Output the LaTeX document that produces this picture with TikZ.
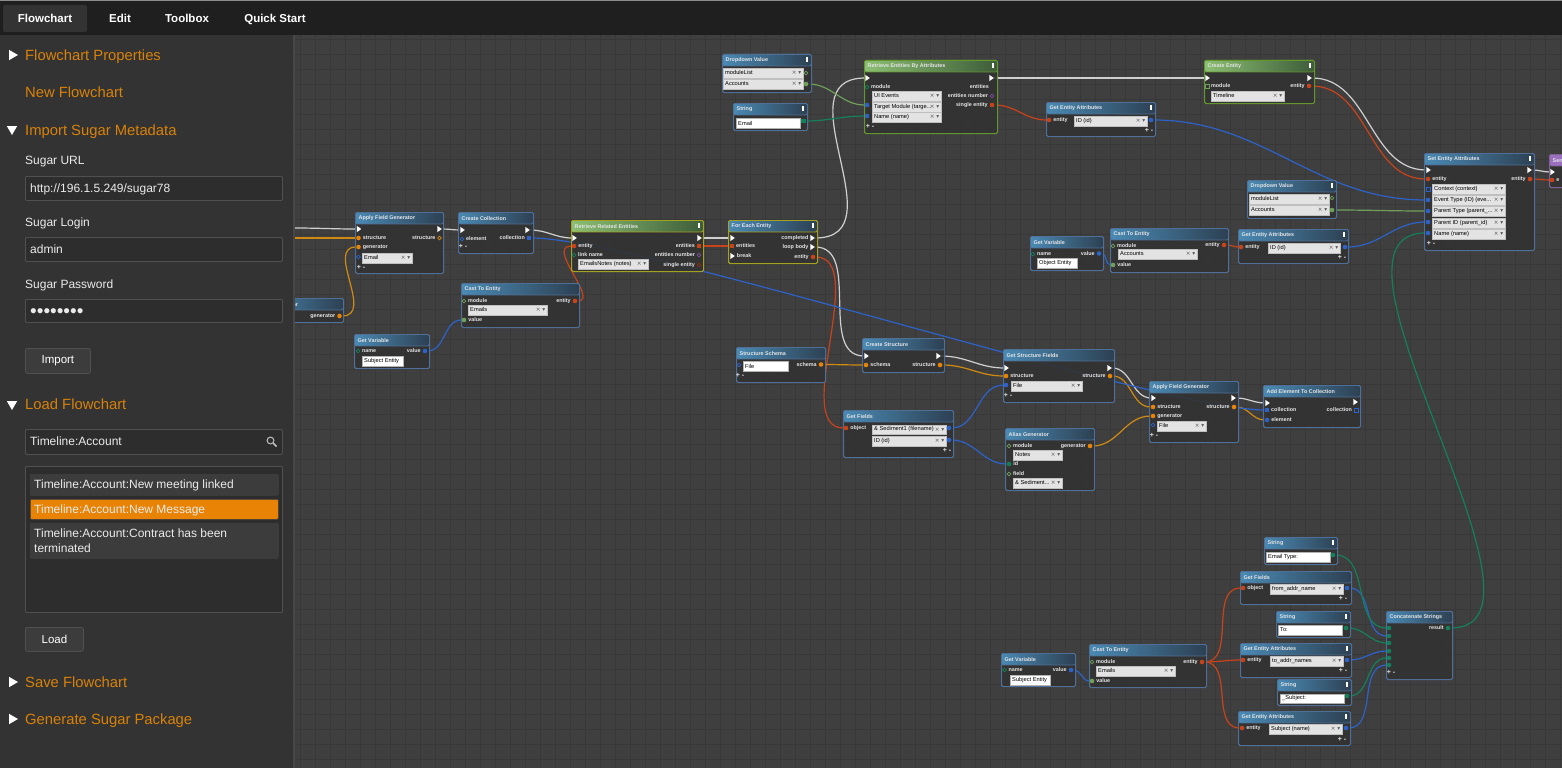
\documentclass[tikz,border=0pt]{standalone}
\usepackage{fontspec}
\setmainfont{Liberation Sans}
\newfontfamily\symfont{DejaVu Sans}
\usetikzlibrary{shapes,shapes.geometric,positioning}
\pgfdeclarelayer{canvas}
\pgfdeclarelayer{wires}
\pgfsetlayers{canvas,wires,main}
\definecolor{sidegray}{HTML}{333333}
\definecolor{topgray}{HTML}{1F1F1F}
\definecolor{canvasgray}{HTML}{3F3F3F}
\definecolor{gridgray}{HTML}{383838}
\definecolor{bodygray}{HTML}{323232}
\definecolor{inputgray}{HTML}{2D2D2D}
\definecolor{sideline}{HTML}{505050}
\definecolor{btngray}{HTML}{3C3C3C}
\definecolor{orangetxt}{HTML}{D98208}
\definecolor{orangesel}{HTML}{E88305}
\definecolor{edgeblue}{HTML}{4F6F96}
\definecolor{edgegreen}{HTML}{64962F}
\definecolor{edgeyellow}{HTML}{A3A321}
\definecolor{edgepurple}{HTML}{80608F}
\definecolor{wwhite}{HTML}{D0D0D0}
\definecolor{wred}{HTML}{C8431A}
\definecolor{worange}{HTML}{D18A10}
\definecolor{wblue}{HTML}{2D62C8}
\definecolor{wlime}{HTML}{6F9F5A}
\definecolor{wteal}{HTML}{14805A}
\definecolor{wpurple}{HTML}{7A4FA0}
\definecolor{HTMLblueA}{HTML}{4A8AB4}
\definecolor{HTMLblueB}{HTML}{2D4052}
\definecolor{HTMLgreenA}{HTML}{8CBF74}
\definecolor{HTMLgreenB}{HTML}{3D5C38}
\definecolor{HTMLpurpA}{HTML}{9A6FBF}
\tikzset{
  tabtxt/.style={text=white,font=\fontsize{11.5}{13}\selectfont\bfseries,inner sep=0pt,text height=12.5pt,text depth=2.5pt},
  headtxt/.style={text=orangetxt,font=\fontsize{14.8}{17}\selectfont,inner sep=0pt,anchor=west,text height=14pt,text depth=3pt},
  sidetxt/.style={text=white!92!black,font=\fontsize{12}{15}\selectfont,inner sep=0pt,anchor=west,text height=10.5pt,text depth=2.5pt},
  sidebox/.style={draw=sideline,fill=inputgray,line width=.8pt,rounded corners=1pt,anchor=north west,inner sep=0pt},
  sidebtn/.style={draw=sideline,fill=btngray,line width=.8pt,rounded corners=2pt,anchor=north west,inner sep=0pt,text=white,font=\fontsize{11.5}{13}\selectfont},
  listitem/.style={fill=#1,draw=sideline!80!black,line width=.5pt,rounded corners=1pt,anchor=north west,inner sep=0pt},
  arrowtri/.style={isosceles triangle,isosceles triangle apex angle=60,fill=white,inner sep=0pt,minimum size=9pt},
  flowbody/.style={fill=bodygray,fill opacity=.9,line width=1.1pt,rounded corners=1.5pt,anchor=north west,inner sep=0pt},
  lineblue/.style={draw=edgeblue},
  linegreen/.style={draw=edgegreen},
  lineyellow/.style={draw=edgeyellow},
  linepurple/.style={draw=edgepurple},
  titleblue/.style={left color=HTMLblueA,right color=HTMLblueB},
  titlegreen/.style={left color=HTMLgreenA,right color=HTMLgreenB},
  titlepurple/.style={left color=HTMLpurpA,right color=HTMLpurpA},
  titletxt/.style={text=white!90!black,font=\fontsize{5.4}{6}\selectfont\bfseries,inner sep=0pt},
  portlbl/.style={text=white!90!black,font=\fontsize{5.4}{6}\selectfont\bfseries,inner sep=0pt},
  rowtxt/.style={text=black,font=\fontsize{5.7}{6}\selectfont,inner sep=0pt,anchor=west},
  dropbox/.style={fill=black!11,draw=black!25,line width=.4pt,anchor=north west,inner sep=0pt,minimum height=9.5pt},
  inbox/.style={fill=white,draw=black!30,line width=.5pt,anchor=north west,inner sep=0pt,minimum height=9.5pt},
  portfull/.style={circle,fill=#1,inner sep=0pt,minimum size=4.6pt},
  portring/.style={circle,draw=#1,inner sep=0pt,minimum size=3.8pt,line width=.7pt},
  portsq/.style={rectangle,fill=#1,inner sep=0pt,minimum size=4.4pt},
  portsqring/.style={rectangle,draw=#1,inner sep=0pt,minimum size=3.8pt,line width=.8pt},
  portexec/.style={isosceles triangle,isosceles triangle apex angle=70,fill=white,inner sep=0pt,minimum size=4.4pt},
  wire/.style={out=0,in=180,line width=1.2pt,line cap=round},
  wirewhite/.style={wire,color=wwhite},
  wirered/.style={wire,color=wred},
  wireorange/.style={wire,color=worange},
  wireblue/.style={wire,color=wblue},
  wirelime/.style={wire,color=wlime},
  wireteal/.style={wire,color=wteal}
}
% name, x, y, w, h, title, line style, title style
\newcommand{\flowbox}[8]{
  \node[flowbody,#7,minimum width=#4pt,minimum height=#5pt] (#1) at (#2,#3) {};
  \node[anchor=north west,inner sep=0pt,rounded corners=1.5pt,line width=.8pt,#7,#8,minimum width=#4pt,minimum height=11.5pt] (#1-title) at (#2,#3) {};
  \node[titletxt,right=3.5pt of #1-title.west] (#1-name) {#6};
}
\newcommand{\kebab}[1]{\fill[white] ([xshift=-5.5pt,yshift=-3pt]#1-title.north east) rectangle +(1.5,5);}
\newcommand{\portin}[5]{\node[#1] (#2) at (#3,#4) {}; \node[portlbl,right=1.6pt of #2] (#2-l) {#5};}
\newcommand{\portout}[5]{\node[#1] (#2) at (#3,#4) {}; \node[portlbl,left=1.6pt of #2] (#2-l) {#5};}
\newcommand{\portbare}[4]{\node[#1] (#2) at (#3,#4) {};}
\newcommand{\droprow}[5]{\node[dropbox,minimum width=#4pt] (#1) at (#2,#3) {};
  \node[rowtxt,right=2pt of #1.west] (#1-t) {#5};
  \node[rowtxt,left=2pt of #1.east,anchor=east,text=black!65] (#1-x) {\symfont × ▾};}
\newcommand{\inrow}[5]{\node[inbox,minimum width=#4pt] (#1) at (#2,#3) {};
  \node[rowtxt,right=2pt of #1.west] (#1-t) {#5};}
\newcommand{\addrem}[3]{\node[portlbl,font=\fontsize{7}{7}\selectfont\bfseries] (#1) at (#2,#3) {+ -};}
\begin{document}
\begin{tikzpicture}[x=1pt,y=-1pt]
  \useasboundingbox (0,0) rectangle (1562,768);
  \begin{pgfonlayer}{canvas}
    \fill[canvasgray] (293,35) rectangle (1562,768);
    \foreach \gx in {300,315,...,1560} \draw[gridgray,line width=.7pt] (\gx,35) -- (\gx,768);
    \foreach \gy in {39,54,...,768} \draw[gridgray,line width=.7pt] (293,\gy) -- (1562,\gy);
  \end{pgfonlayer}

  % upper row
  \flowbox{ddone}{722}{54}{89}{38}{Dropdown Value}{lineblue}{titleblue}\kebab{ddone}
  \droprow{ddone-a}{723}{68}{80}{moduleList}
  \droprow{ddone-b}{723}{79}{80}{Accounts}
  \portbare{portring=wlime}{ddone-pa}{806}{73}
  \portbare{portfull=wlime}{ddone-pb}{806}{84}
  \flowbox{strmail}{733}{103}{74}{27}{String}{lineblue}{titleblue}\kebab{strmail}
  \inrow{strmail-in}{736}{118}{64}{Email}
  \portbare{portsq=wteal}{strmail-p}{803.5}{121}

  \flowbox{rba}{864}{60}{133}{73}{Retrieve Entities By Attributes}{linegreen}{titlegreen}\kebab{rba}
  \portbare{portexec}{rba-in}{867}{78}
  \portbare{portexec}{rba-out}{991}{78}
  \portin{portring=wteal}{rba-mod}{867}{87}{module}
  \droprow{rba-a}{872}{91}{69}{UI Events}
  \droprow{rba-b}{872}{102}{69}{Target Module (targe...}
  \droprow{rba-c}{872}{112}{69}{Name (name)}
  \portbare{portfull=wblue}{rba-pb}{867}{105}
  \portbare{portfull=wblue}{rba-pc}{867}{116}
  \addrem{rba-add}{870}{126}
  \portout{portring=wpurple}{rba-num}{992}{96}{entities number}
  \portout{portfull=wred}{rba-one}{992}{105}{single entity}
  \node[portlbl,anchor=east] (rba-ents) at (989,87) {entities};

  \flowbox{cent}{1204}{60}{110}{43}{Create Entity}{linegreen}{titlegreen}\kebab{cent}
  \portbare{portexec}{cent-in}{1207}{78}
  \portbare{portexec}{cent-out}{1309}{78}
  \portin{portsqring=wlime}{cent-mod}{1207}{86}{module}
  \droprow{cent-a}{1211}{91}{73}{Timeline}
  \portout{portfull=wred}{cent-ent}{1309}{86}{entity}

  \flowbox{gea}{1046}{102}{109}{34}{Get Entity Attributes}{lineblue}{titleblue}\kebab{gea}
  \portin{portfull=wred}{gea-ent}{1049}{120}{entity}
  \droprow{gea-a}{1074}{116}{73}{ID (id)}
  \portbare{portfull=wblue}{gea-p}{1151}{120}
  \addrem{gea-add}{1149}{130}

  \flowbox{sea}{1424}{153}{110}{97}{Set Entity Attributes}{lineblue}{titleblue}\kebab{sea}
  \portbare{portexec}{sea-in}{1428}{170}
  \portbare{portexec}{sea-out}{1529}{170}
  \portin{portfull=wred}{sea-ent}{1428}{179}{entity}
  \portout{portfull=wred}{sea-res}{1530}{179}{entity}
  \droprow{sea-a}{1432}{184}{73}{Context (context)}
  \droprow{sea-b}{1432}{195}{73}{Event Type (ID) (eve...}
  \droprow{sea-c}{1432}{206}{73}{Parent Type (parent\_...}
  \droprow{sea-d}{1432}{218}{73}{Parent ID (parent\_id)}
  \droprow{sea-e}{1432}{229}{73}{Name (name)}
  \portbare{portsqring=wblue}{sea-pa}{1428}{189}
  \portbare{portfull=wblue}{sea-pb}{1428}{200}
  \portbare{portfull=wblue}{sea-pc}{1428}{211}
  \portbare{portfull=wblue}{sea-pd}{1428}{222}
  \portbare{portfull=wblue}{sea-pe}{1428}{233}
  \addrem{sea-add}{1431}{243}

  \flowbox{send}{1549}{154}{15}{33}{Sen}{linepurple}{titlepurple}
  \portbare{portexec}{send-in}{1552}{172}
  \portin{portfull=wred}{send-ent}{1552}{180}{e}

  \flowbox{ddtwo}{1247}{180}{89}{38}{Dropdown Value}{lineblue}{titleblue}\kebab{ddtwo}
  \droprow{ddtwo-a}{1249}{194}{80}{moduleList}
  \droprow{ddtwo-b}{1249}{205}{80}{Accounts}
  \portbare{portring=wlime}{ddtwo-pa}{1332}{198}
  \portbare{portfull=wlime}{ddtwo-pb}{1332}{210}

  \flowbox{gvobj}{1030}{236}{73}{34}{Get Variable}{lineblue}{titleblue}
  \portin{portring=wteal}{gvobj-name}{1033}{254}{name}
  \inrow{gvobj-in}{1037}{258}{40}{Object Entity}
  \portout{portfull=wblue}{gvobj-val}{1099}{253.5}{value}

  \flowbox{castacc}{1110}{228}{118}{44}{Cast To Entity}{lineblue}{titleblue}
  \portin{portring=wlime}{castacc-mod}{1113}{246}{module}
  \droprow{castacc-a}{1118}{249}{79}{Accounts}
  \portin{portfull=wlime}{castacc-val}{1113}{265}{value}
  \portout{portfull=wred}{castacc-ent}{1224}{245}{entity}

  \flowbox{geaid}{1238}{229}{110}{34}{Get Entity Attributes}{lineblue}{titleblue}\kebab{geaid}
  \portin{portfull=wred}{geaid-ent}{1241}{247}{entity}
  \droprow{geaid-a}{1268}{243}{72}{ID (id)}
  \portbare{portfull=wblue}{geaid-p}{1345}{247}
  \addrem{geaid-add}{1342}{257}

  % left part
  \flowbox{gencut}{254}{298}{89}{24}{Alias Generator}{lineblue}{titleblue}
  \portout{portfull=orangesel}{gencut-p}{339.5}{316}{generator}

  \flowbox{afg}{355}{212}{88}{61}{Apply Field Generator}{lineblue}{titleblue}
  \portbare{portexec}{afg-in}{358.5}{229}
  \portbare{portexec}{afg-out}{439}{229}
  \portin{portfull=orangesel}{afg-str}{358.5}{238}{structure}
  \portout{portring=worange}{afg-res}{439.5}{238}{structure}
  \portin{portfull=orangesel}{afg-gen}{358.5}{247}{generator}
  \droprow{afg-a}{362}{253}{50}{Email}
  \portbare{portring=wblue}{afg-pa}{358.5}{257}
  \addrem{afg-add}{361}{267}

  \flowbox{ccol}{458}{212}{75}{41}{Create Collection}{lineblue}{titleblue}
  \portbare{portexec}{ccol-in}{462}{230}
  \portbare{portexec}{ccol-out}{527}{230}
  \portin{portring=wblue}{ccol-el}{462}{239}{element}
  \portout{portsq=wblue}{ccol-res}{529}{238}{collection}
  \addrem{ccol-add}{463}{246}

  \flowbox{rre}{571}{220}{132}{51}{Retrieve Related Entities}{lineyellow}{titlegreen}\kebab{rre}
  \portbare{portexec}{rre-in}{574}{238}
  \portbare{portexec}{rre-out}{699}{238}
  \portin{portfull=wred}{rre-ent}{574}{246}{entity}
  \portin{portring=wteal}{rre-link}{574}{255}{link name}
  \droprow{rre-a}{578}{259}{70}{EmailsNotes (notes)}
  \portout{portsq=wred}{rre-res}{699}{246}{entities}
  \portout{portring=wpurple}{rre-num}{699}{255}{entities number}
  \portout{portring=wred!70!black}{rre-one}{699}{265}{single entity}

  \flowbox{fee}{728}{220}{89}{43}{For Each Entity}{lineyellow}{titleblue}\kebab{fee}
  \portbare{portexec}{fee-in}{732}{238}
  \portin{portsq=wred}{fee-ents}{732}{246}{entities}
  \portin{portexec}{fee-brk}{732}{256}{break}
  \portout{portexec}{fee-done}{812}{238}{completed}
  \portout{portexec}{fee-loop}{812}{247}{loop body}
  \portout{portfull=wred}{fee-ent}{813}{257}{entity}

  \flowbox{castmail}{461}{283}{118}{44}{Cast To Entity}{lineblue}{titleblue}
  \portin{portring=wlime}{castmail-mod}{464}{301}{module}
  \droprow{castmail-a}{468}{305}{79}{Emails}
  \portin{portfull=wlime}{castmail-val}{464}{320}{value}
  \portout{portfull=wred}{castmail-ent}{575}{301}{entity}

  \flowbox{gvsub}{354}{334}{75}{34}{Get Variable}{lineblue}{titleblue}
  \portin{portring=wteal}{gvsub-name}{358}{351}{name}
  \inrow{gvsub-in}{362}{356}{41}{Subject Entity}
  \portout{portfull=wblue}{gvsub-val}{425}{351}{value}

  % middle part
  \flowbox{sch}{736}{347}{89}{35}{Structure Schema}{lineblue}{titleblue}
  \portbare{portring=wblue}{sch-p}{739}{365}
  \inrow{sch-in}{743}{361}{45}{File}
  \portout{portfull=orangesel}{sch-out}{821}{364.5}{schema}
  \addrem{sch-add}{740}{375}

  \flowbox{cstr}{862}{338}{82}{34}{Create Structure}{lineblue}{titleblue}
  \portbare{portexec}{cstr-in}{866}{356}
  \portbare{portexec}{cstr-out}{938}{356}
  \portin{portfull=orangesel}{cstr-sch}{866}{365}{schema}
  \portout{portfull=orangesel}{cstr-res}{940}{365}{structure}

  \flowbox{gsf}{1003}{349}{111}{53}{Get Structure Fields}{lineblue}{titleblue}
  \portbare{portexec}{gsf-in}{1006}{368}
  \portbare{portexec}{gsf-out}{1109}{368}
  \portin{portfull=orangesel}{gsf-str}{1006}{376}{structure}
  \portout{portfull=orangesel}{gsf-res}{1110}{376}{structure}
  \droprow{gsf-a}{1011}{381}{71}{File}
  \portbare{portfull=wblue}{gsf-p}{1006}{385}
  \addrem{gsf-add}{1008}{395}

  \flowbox{afgb}{1149}{381}{89}{61}{Apply Field Generator}{lineblue}{titleblue}
  \portbare{portexec}{afgb-in}{1153}{398}
  \portbare{portexec}{afgb-out}{1233}{398}
  \portin{portfull=orangesel}{afgb-str}{1153}{407}{structure}
  \portout{portfull=orangesel}{afgb-res}{1234}{407}{structure}
  \portin{portfull=orangesel}{afgb-gen}{1153}{416}{generator}
  \droprow{afgb-a}{1157}{421}{49}{File}
  \portbare{portring=wblue}{afgb-pa}{1153}{425}
  \addrem{afgb-add}{1154}{435}

  \flowbox{adde}{1263}{385}{97}{42}{Add Element To Collection}{lineblue}{titleblue}
  \portbare{portexec}{adde-in}{1267}{403}
  \portbare{portexec}{adde-out}{1355}{402}
  \portin{portsq=wblue}{adde-col}{1267}{410}{collection}
  \portout{portsqring=wblue}{adde-res}{1356}{410}{collection}
  \portin{portfull=wblue}{adde-el}{1267}{420}{element}

  \flowbox{gfld}{843}{410}{110}{47}{Get Fields}{lineblue}{titleblue}
  \portin{portfull=wred}{gfld-obj}{846}{428}{object}
  \droprow{gfld-a}{872}{424.5}{74}{\& Sediment1 (filename)}
  \droprow{gfld-b}{872}{436}{74}{ID (id)}
  \portbare{portfull=wblue}{gfld-pa}{949}{428}
  \portbare{portfull=wblue}{gfld-pb}{949}{440}
  \addrem{gfld-add}{947}{450}

  \flowbox{agen}{1005}{428}{89}{62}{Alias Generator}{lineblue}{titleblue}
  \portin{portring=wlime}{agen-mod}{1009}{446}{module}
  \droprow{agen-a}{1013}{450}{49}{Notes}
  \portin{portfull=wteal}{agen-id}{1009}{464}{id}
  \portin{portring=wlime}{agen-fld}{1009}{474}{field}
  \droprow{agen-b}{1013}{478}{49}{\& Sediment...}
  \portout{portfull=orangesel}{agen-out}{1090}{446}{generator}

  % lower part
  \flowbox{stra}{1264}{537}{73}{27}{String}{lineblue}{titleblue}\kebab{stra}
  \inrow{stra-in}{1266}{552}{64}{Email Type:}
  \portbare{portfull=wteal}{stra-p}{1333}{555}

  \flowbox{gff}{1240}{571}{111}{33}{Get Fields}{lineblue}{titleblue}
  \portin{portfull=wred}{gff-obj}{1243}{588}{object}
  \droprow{gff-a}{1270}{584}{73}{from\_addr\_name}
  \portbare{portfull=wblue}{gff-p}{1347}{588}
  \addrem{gff-add}{1343}{598}

  \flowbox{strb}{1276}{611}{74}{26}{String}{lineblue}{titleblue}\kebab{strb}
  \inrow{strb-in}{1278}{625}{64}{To:}
  \portbare{portfull=wteal}{strb-p}{1346}{628}

  \flowbox{geat}{1240}{643}{111}{34}{Get Entity Attributes}{lineblue}{titleblue}\kebab{geat}
  \portin{portfull=wred}{geat-ent}{1243}{660}{entity}
  \droprow{geat-a}{1270}{656}{73}{to\_addr\_names}
  \portbare{portfull=wblue}{geat-p}{1347}{660}
  \addrem{geat-add}{1343}{670}

  \flowbox{strc}{1277}{679}{74}{26}{String}{lineblue}{titleblue}\kebab{strc}
  \inrow{strc-in}{1280}{693.5}{64}{\_Subject:}
  \portbare{portfull=wteal}{strc-p}{1347}{696}

  \flowbox{geas}{1238}{711}{112}{34}{Get Entity Attributes}{lineblue}{titleblue}\kebab{geas}
  \portin{portfull=wred}{geas-ent}{1242}{728}{entity}
  \droprow{geas-a}{1269}{724}{73}{Subject (name)}
  \portbare{portfull=wblue}{geas-p}{1346}{728}
  \addrem{geas-add}{1342}{739}

  \flowbox{conc}{1386}{611}{66}{68}{Concatenate Strings}{lineblue}{titleblue}
  \portbare{portfull=wteal}{conc-a}{1389}{628}
  \portbare{portfull=wteal}{conc-b}{1389}{636}
  \portbare{portfull=wteal}{conc-c}{1389}{643}
  \portbare{portfull=wteal}{conc-d}{1389}{651}
  \portbare{portfull=wteal}{conc-e}{1389}{658}
  \portbare{portfull=wteal}{conc-f}{1389}{665}
  \portout{portfull=wteal}{conc-res}{1448}{628}{result}
  \addrem{conc-add}{1391}{672}

  \flowbox{gvlow}{1001}{653}{74}{33}{Get Variable}{lineblue}{titleblue}
  \portin{portring=wteal}{gvlow-name}{1004.5}{670}{name}
  \inrow{gvlow-in}{1010}{675}{40}{Subject Entity}
  \portout{portfull=wblue}{gvlow-val}{1071}{670}{value}

  \flowbox{castlow}{1089}{644}{117}{43}{Cast To Entity}{lineblue}{titleblue}
  \portin{portring=wlime}{castlow-mod}{1092}{662}{module}
  \droprow{castlow-a}{1096}{666}{79}{Emails}
  \portin{portfull=wlime}{castlow-val}{1092}{681}{value}
  \portout{portfull=wred}{castlow-ent}{1202}{662}{entity}

  \coordinate (edgewhite) at (294,228);
  \coordinate (edgeorange) at (294,238);

  \begin{pgfonlayer}{wires}
    \path[wirewhite]
      (edgewhite) edge (afg-in)
      (afg-out) edge (ccol-in)
      (ccol-out) edge (rre-in)
      (rre-out) edge (fee-in)
      (fee-loop) edge (cstr-in)
      (cstr-out) edge (gsf-in)
      (gsf-out) edge (afgb-in)
      (afgb-out) edge (adde-in)
      (rba-out) edge (cent-in)
      (cent-out) edge (sea-in)
      (sea-out) edge (send-in);
    \draw[wirewhite] (fee-done) .. controls (900,238) and (780,78) .. (rba-in);
    \path[wirered]
      (rre-res) edge (fee-ents)
      (rba-one) edge (gea-ent)
      (cent-ent) edge (sea-ent)
      (sea-res) edge (send-ent)
      (castacc-ent) edge (geaid-ent)
      (castlow-ent) edge (gff-obj)
      (castlow-ent) edge (geat-ent)
      (castlow-ent) edge (geas-ent);
    \draw[wirered] (castmail-ent) .. controls (600,301) and (545,246) .. (rre-ent);
    \draw[wirered] (fee-ent) .. controls (870,257) and (790,428) .. (gfld-obj);
    \path[wireorange]
      (edgeorange) edge (afg-str)
      (sch-out) edge (cstr-sch)
      (cstr-res) edge (gsf-str)
      (gsf-res) edge (afgb-str)
      (agen-out) edge (afgb-gen)
      (afgb-res) edge (adde-el);
    \draw[wireorange] (gencut-p) .. controls (375,316) and (325,247) .. (afg-gen);
    \path[wireblue]
      (gvsub-val) edge (castmail-val)
      (gea-p) edge (sea-pb)
      (geaid-p) edge (sea-pd)
      (gvobj-val) edge (castacc-val)
      (gfld-pa) edge (gsf-p)
      (gfld-pb) edge (agen-id)
      (gff-p) edge (conc-b)
      (geat-p) edge (conc-d)
      (geas-p) edge (conc-f)
      (gvlow-val) edge (castlow-val);
    \draw[wireblue] (ccol-res) .. controls (640,238) and (1160,410) .. (adde-col);
    \path[wirelime]
      (ddone-pb) edge (rba-pb)
      (ddtwo-pb) edge (sea-pc);
    \path[wireteal]
      (strmail-p) edge (rba-pc)
      (stra-p) edge (conc-a)
      (strb-p) edge (conc-c)
      (strc-p) edge (conc-e);
    \draw[wireteal] (conc-res) .. controls (1575,628) and (1300,233) .. (sea-pe);
  \end{pgfonlayer}

  % sidebar over the canvas
  \fill[sidegray] (0,35) rectangle (293,768);
  \fill[black!72] (293,35) rectangle (295,768);
  \fill[topgray] (0,0) rectangle (1562,35);
  \fill[black!45] (0,0) rectangle (1562,1.5);
  \node[fill=sidegray,rounded corners=2pt,minimum width=84pt,minimum height=27pt,inner sep=0pt] (tabback) at (45,18.5) {};
  \node[tabtxt] (tabflow) at (45,18) {Flowchart};
  \node[tabtxt] (tabedit) at (120,18) {Edit};
  \node[tabtxt] (tabtool) at (187,18) {Toolbox};
  \node[tabtxt] (tabquick) at (275,18) {Quick Start};

  \node[arrowtri] (triprops) at (12,55) {};
  \node[headtxt] (headprops) at (25,55) {Flowchart Properties};
  \node[headtxt] (headnew) at (25,92) {New Flowchart};
  \node[arrowtri,shape border rotate=-90] (triimport) at (12,129) {};
  \node[headtxt] (headimport) at (25,130) {Import Sugar Metadata};

  \node[sidetxt] (lblurl) at (25,160) {Sugar URL};
  \node[sidebox,minimum width=257pt,minimum height=24pt] (boxurl) at (25,176) {};
  \node[sidetxt,right=5pt of boxurl.west] (txturl) {http://196.1.5.249/sugar78};
  \node[sidetxt] (lbllogin) at (25,222) {Sugar Login};
  \node[sidebox,minimum width=257pt,minimum height=24pt] (boxlogin) at (25,237) {};
  \node[sidetxt,right=5pt of boxlogin.west] (txtlogin) {admin};
  \node[sidetxt] (lblpass) at (25,284) {Sugar Password};
  \node[sidebox,minimum width=257pt,minimum height=23pt] (boxpass) at (25,299) {};
  \node[sidetxt,right=5pt of boxpass.west,font=\fontsize{19}{19}\selectfont,yshift=-3pt] (txtpass) {••••••••};
  \node[sidebtn,minimum width=65pt,minimum height=25pt] (btnimport) at (25,348) {Import};

  \node[arrowtri,shape border rotate=-90] (triload) at (12,404) {};
  \node[headtxt] (headload) at (25,404) {Load Flowchart};
  \node[sidebox,minimum width=257pt,minimum height=25pt] (boxsearch) at (25,429) {};
  \node[sidetxt,right=5pt of boxsearch.west] (txtsearch) {Timeline:Account};
  \draw[black!25,line width=1pt] (270.5,440.5) circle (3.4);
  \draw[black!25,line width=1.6pt] (273,443) -- (276.5,446.5);
  \node[sidebox,minimum width=257pt,minimum height=146pt] (boxlist) at (25,466) {};
  \node[listitem=btngray,minimum width=248pt,minimum height=21pt] (itemone) at (30,474) {};
  \node[sidetxt,right=4pt of itemone.west] (txtone) {Timeline:Account:New meeting linked};
  \node[listitem=orangesel,minimum width=248pt,minimum height=20pt] (itemtwo) at (30,499) {};
  \node[sidetxt,right=4pt of itemtwo.west] (txttwo) {Timeline:Account:New Message};
  \node[listitem=btngray,minimum width=248pt,minimum height=35pt] (itemthree) at (30,523) {};
  \node[sidetxt] (txtthree) at (34,533) {Timeline:Account:Contract has been};
  \node[sidetxt] (txtfour) at (34,548) {terminated};
  \node[sidebtn,minimum width=58pt,minimum height=24pt] (btnload) at (25,627) {Load};

  \node[arrowtri] (trisave) at (12,682) {};
  \node[headtxt] (headsave) at (25,682) {Save Flowchart};
  \node[arrowtri] (trigen) at (12,719) {};
  \node[headtxt] (headgen) at (25,719) {Generate Sugar Package};
\end{tikzpicture}
\end{document}
